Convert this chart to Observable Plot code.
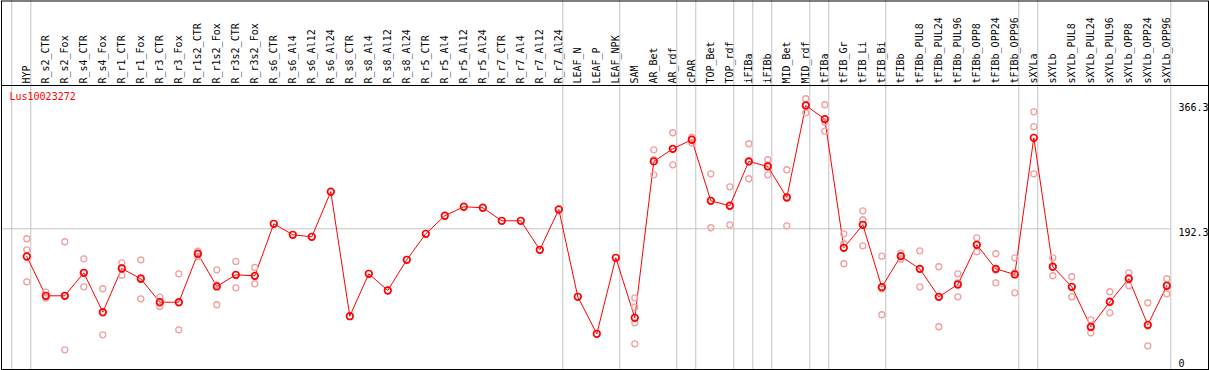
<!DOCTYPE html>
<html><head><meta charset="utf-8">
<script src="https://cdn.jsdelivr.net/npm/d3@7"></script>
<script src="https://cdn.jsdelivr.net/npm/@observablehq/plot@0.6"></script>
<style>body{margin:0;background:#fff}</style>
</head><body><div id="chart"></div>
<script>
const geneName = "Lus10023272";
const samples = ["HYP","R_s2_CTR","R_s2_Fox","R_s4_CTR","R_s4_Fox","R_r1_CTR","R_r1_Fox","R_r3_CTR","R_r3_Fox","R_r1s2_CTR","R_r1s2_Fox","R_r3s2_CTR","R_r3s2_Fox","R_s6_CTR","R_s6_Al4","R_s6_Al12","R_s6_Al24","R_s8_CTR","R_s8_Al4","R_s8_Al12","R_s8_Al24","R_r5_CTR","R_r5_Al4","R_r5_Al12","R_r5_Al24","R_r7_CTR","R_r7_Al4","R_r7_Al12","R_r7_Al24","LEAF_N","LEAF_P","LEAF_NPK","SAM","AR_Bet","AR_rdf","cPAR","TOP_Bet","TOP_rdf","iFIBa","iFIBb","MID_Bet","MID_rdf","tFIBa","tFIB_Gr","tFIB_Li","tFIB_Bi","tFIBb","tFIBb_PUL8","tFIBb_PUL24","tFIBb_PUL96","tFIBb_OPP8","tFIBb_OPP24","tFIBb_OPP96","sXYLa","sXYLb","sXYLb_PUL8","sXYLb_PUL24","sXYLb_PUL96","sXYLb_OPP8","sXYLb_OPP24","sXYLb_OPP96"];
const means = [153.8,99.1,99.1,131.1,76.3,137.1,122.8,90.2,90.2,157.6,112.1,128.3,126.9,199.3,184.0,181.2,243.9,70.7,129.7,106.5,149.2,185.4,210.5,223.0,221.6,203.5,203.5,163.1,219.2,97.7,46.2,152.0,68.5,286.1,303.7,316.3,231.3,224.4,286.1,279.1,235.9,364.0,345.0,165.9,197.9,111.1,154.3,136.6,97.7,114.8,170.1,136.6,128.8,319.0,139.5,111.6,55.9,90.7,122.8,58.7,113.0];
const replicates = [
  [178.5,163.1,118.6],[104.1,97.2,96.0],[174.3,99.1,23.9],[150.6,131.1,111.6],[108.9,75.2,44.8],
  [145.0,138.5,127.8],[149.2,124.3,94.9],[97.2,89.2,84.2],[129.7,89.1,51.8],[161.2,157.8,153.8],
  [135.3,114.4,86.6],[146.9,127.8,110.2],[138.5,126.4,115.8],
  [],[],[],[],[],[],[],[],[],[],[],[],[],[],[],[],[],[],[],
  [96.3,83.2,61.5,32.3],[302.3,288.5,267.5],[326.0,303.7,281.4],[319.9,317.0,312.1],
  [268.9,231.2,193.8],[250.8,224.5,197.9],[310.7,285.6,262.0],[288.4,281.4,267.5],
  [274.5,236.7,196.5],[373.3,364.9,353.8],[365.0,340.8,328.2],[185.4,171.5,143.7],
  [217.4,204.9,168.7],[154.3,108.9,72.7],[158.4,155.0,150.0],[161.7,136.6,111.6],
  [139.5,97.6,56.0],[129.7,117.0,97.7],[179.8,170.1,160.4],[157.6,135.0,117.2],
  [152.0,131.0,103.3],[355.2,334.4,268.9],[152.0,139.5,127.0],[125.6,111.5,97.7],
  [65.7,54.4,47.6],[104.7,92.0,75.4],[131.1,124.0,113.0],[89.4,57.0,29.5],[122.8,114.0,101.9]
];
const groupEnds = [-1,0,28,31,34,35,37,38,39,41,42,45,52,53,60];
const yTicks = [0,192.3,366.3];
const yTickLabels = ["0","192.3","366.3"];
const yGrid = [192.3];

const rows = samples.map((s,i)=>({i, sample:s, mean:means[i]}));
const reps = replicates.flatMap((vals,i)=>vals.map(v=>({i, v})));
const tickRows = yTicks.map((v,k)=>({v, label:yTickLabels[k]}));

const chart = Plot.plot({
  width:1209, height:370,
  marginTop:85, marginBottom:1, marginLeft:1, marginRight:1,
  x:{type:"linear", domain:[0,60], range:[26.3,1166.3]},
  y:{type:"linear", domain:[0,366.3], range:[366.5,103.3], axis:null},
  style:{fontFamily:"'DejaVu Sans Mono', monospace", fontSize:"10px", background:"white"},
  marks:[
    Plot.ruleX(groupEnds, {x:d=>d+0.21, stroke:"#c4c4c4", insetTop:-85}),
    Plot.ruleY(yGrid, {y:d=>d, stroke:"#c4c4c4", insetRight:38}),
    Plot.frame({stroke:"black", insetTop:-84.5}),
    Plot.frame({stroke:"black"}),
    Plot.axisX({anchor:"top", ticks:d3.range(samples.length), tickFormat:i=>samples[i], tickRotate:-90, tickSize:0, tickPadding:2, label:null, fontSize:10}),
    Plot.text(tickRows.filter(d=>d.v>0), {y:"v", text:"label", frameAnchor:"right", dx:-30, textAnchor:"start", lineAnchor:"top", fill:"black"}),
    Plot.text(tickRows.filter(d=>d.v===0), {y:"v", text:"label", frameAnchor:"right", dx:-30, textAnchor:"start", lineAnchor:"bottom", fill:"black"}),
    Plot.text([geneName], {frameAnchor:"top-left", dx:8, dy:7, fill:"red", textAnchor:"start", lineAnchor:"top"}),
    Plot.line(rows, {x:"i", y:"mean", stroke:"red", strokeWidth:1}),
    Plot.dot(reps, {x:"i", y:"v", r:3, stroke:"#f0a0a0", strokeWidth:1.3}),
    Plot.dot(rows, {x:"i", y:"mean", r:3.3, stroke:"red", strokeWidth:1.7})
  ]
});
document.getElementById("chart").append(chart);
</script>
</body></html>
